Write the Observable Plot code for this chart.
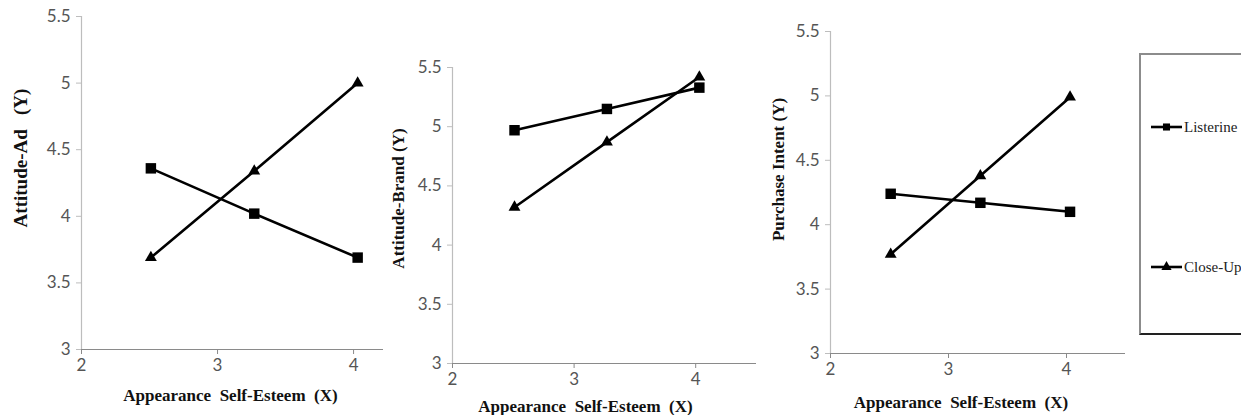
<!DOCTYPE html>
<html>
<head>
<meta charset="utf-8">
<script src="https://cdn.jsdelivr.net/npm/d3@7"></script>
<script src="https://cdn.jsdelivr.net/npm/@observablehq/plot@0.6"></script>
<style>
  body { margin: 0; background: #fff; }
  #chart { position: relative; width: 1241px; height: 415px; background: #fff; overflow: hidden; }
  #chart > svg, #chart > figure { position: absolute; top: 0; margin: 0; }
  .legend { position: absolute; left: 1139px; top: 53px; width: 120px; height: 278px;
    border-left: 2px solid #8c8c8c; border-top: 2px solid #8c8c8c; border-bottom: 2px solid #222; background: #fff; }
  .legend .item { position: absolute; left: 9px; display: flex; align-items: center;
    font-family: "Liberation Serif", "Times New Roman", serif; font-size: 15px; color: #222; }
</style>
</head>
<body>
<div id="chart"></div>
<script>
// ---- data ----
const seriesNames = ["Listerine", "Close-Up"];
const xLevels = [2.51, 3.27, 4.03];           // Appearance Self-Esteem (X): -1 SD, mean, +1 SD
const xTicks = [2, 3, 4];
const yTicks = [3, 3.5, 4, 4.5, 5, 5.5];
const xLabel = "Appearance\u00a0 Self-Esteem\u00a0 (X)";
const yLabels = ["Attitude-Ad\u00a0\u00a0 (Y)", "Attitude-Brand (Y)", "Purchase Intent (Y)"];

const attitudeAdListerine = [4.36, 4.02, 3.69];
const attitudeAdCloseUp = [3.69, 4.34, 5.00];
const attitudeBrandListerine = [4.97, 5.15, 5.33];
const attitudeBrandCloseUp = [4.32, 4.87, 5.42];
const purchaseIntentListerine = [4.24, 4.17, 4.10];
const purchaseIntentCloseUp = [3.77, 4.38, 4.99];

// ---- layout (per panel) ----
const panels = [
  {yLabel: yLabels[0], values: [attitudeAdListerine, attitudeAdCloseUp], xMax: 4.22, ySize: 19,
   left: 0, width: 400, mL: 81, mR: 17, mT: 16, mB: 66, yDx: -61, yDy: -25, xDx: -2, xDy: 46},
  {yLabel: yLabels[1], values: [attitudeBrandListerine, attitudeBrandCloseUp], xMax: 4.5, ySize: 17,
   left: 380, width: 380, mL: 72, mR: 4, mT: 67, mB: 52, yDx: -54, yDy: -17, xDx: -19, xDy: 43},
  {yLabel: yLabels[2], values: [purchaseIntentListerine, purchaseIntentCloseUp], xMax: 4.5, ySize: 17,
   left: 760, width: 370, mL: 70, mR: 5, mT: 31, mB: 62, yDx: -52, yDy: -23, xDx: -17, xDy: 49}
];

const chart = document.getElementById("chart");
const symbols = {"Listerine": {symbol: "square", r: 5.9}, "Close-Up": {symbol: "triangle", r: 4.4}};
const tickFont = "Lato, 'Open Sans', sans-serif";
const labelFont = "'Liberation Serif', 'Times New Roman', serif";

for (const p of panels) {
  const rows = [];
  seriesNames.forEach((s, si) => xLevels.forEach((x, i) => rows.push({series: s, x, y: p.values[si][i]})));
  const svg = Plot.plot({
    width: p.width, height: 415,
    marginLeft: p.mL, marginRight: p.mR, marginTop: p.mT, marginBottom: p.mB,
    x: {domain: [2, p.xMax]},
    y: {domain: [3, 5.5]},
    style: {background: "transparent", overflow: "visible", fontSize: "17px", fontFamily: tickFont},
    marks: [
      Plot.ruleX([2], {stroke: "#bdbdbd", strokeWidth: 1.2}),
      Plot.ruleY([3], {stroke: "#8a8a8a", strokeWidth: 1.2}),
      Plot.axisX({ticks: xTicks, tickSize: 5, tickPadding: 4, tickFormat: d => String(d),
        stroke: "#8a8a8a", fill: "#555", fontSize: 17, fontFamily: tickFont, label: null}),
      Plot.axisY({ticks: yTicks, tickSize: 5, tickPadding: 6, tickFormat: d => String(d),
        stroke: "#bdbdbd", fill: "#555", fontSize: 17, fontFamily: tickFont, label: null}),
      Plot.line(rows, {x: "x", y: "y", z: "series", stroke: "#000", strokeWidth: 2.6}),
      ...seriesNames.map(s => Plot.dot(rows.filter(d => d.series === s),
        {x: "x", y: "y", symbol: symbols[s].symbol, r: symbols[s].r, fill: "#000", stroke: "none"})),
      Plot.text([p.yLabel], {frameAnchor: "left", dx: p.yDx, dy: p.yDy, rotate: -90,
        textAnchor: "middle", lineAnchor: "middle",
        fontFamily: labelFont, fontWeight: "bold", fontSize: p.ySize, fill: "#111"}),
      Plot.text([xLabel], {frameAnchor: "bottom", dx: p.xDx, dy: p.xDy, textAnchor: "middle", lineAnchor: "middle",
        fontFamily: labelFont, fontWeight: "bold", fontSize: 17, fill: "#111"})
    ]
  });
  svg.style.left = p.left + "px";
  chart.appendChild(svg);
}

// ---- legend ----
const legend = document.createElement("div");
legend.className = "legend";
chart.appendChild(legend);
const legendTops = [72, 212];
seriesNames.forEach((s, i) => {
  const item = document.createElement("div");
  item.className = "item";
  item.style.top = legendTops[i] - 10 + "px";
  const sw = d3.create("svg").attr("width", 34).attr("height", 20);
  sw.append("line").attr("x1", 1).attr("x2", 32).attr("y1", 10).attr("y2", 10)
    .attr("stroke", "#000").attr("stroke-width", 2.6);
  const sym = symbols[s].symbol === "square" ? d3.symbolSquare : d3.symbolTriangle;
  const size = s === "Listerine" ? 50 : 45;
  sw.append("path").attr("d", d3.symbol(sym, size)()).attr("transform", "translate(16.5,10)").attr("fill", "#000");
  item.appendChild(sw.node());
  const t = document.createElement("span");
  t.textContent = s;
  item.appendChild(t);
  legend.appendChild(item);
});
</script>
</body>
</html>
